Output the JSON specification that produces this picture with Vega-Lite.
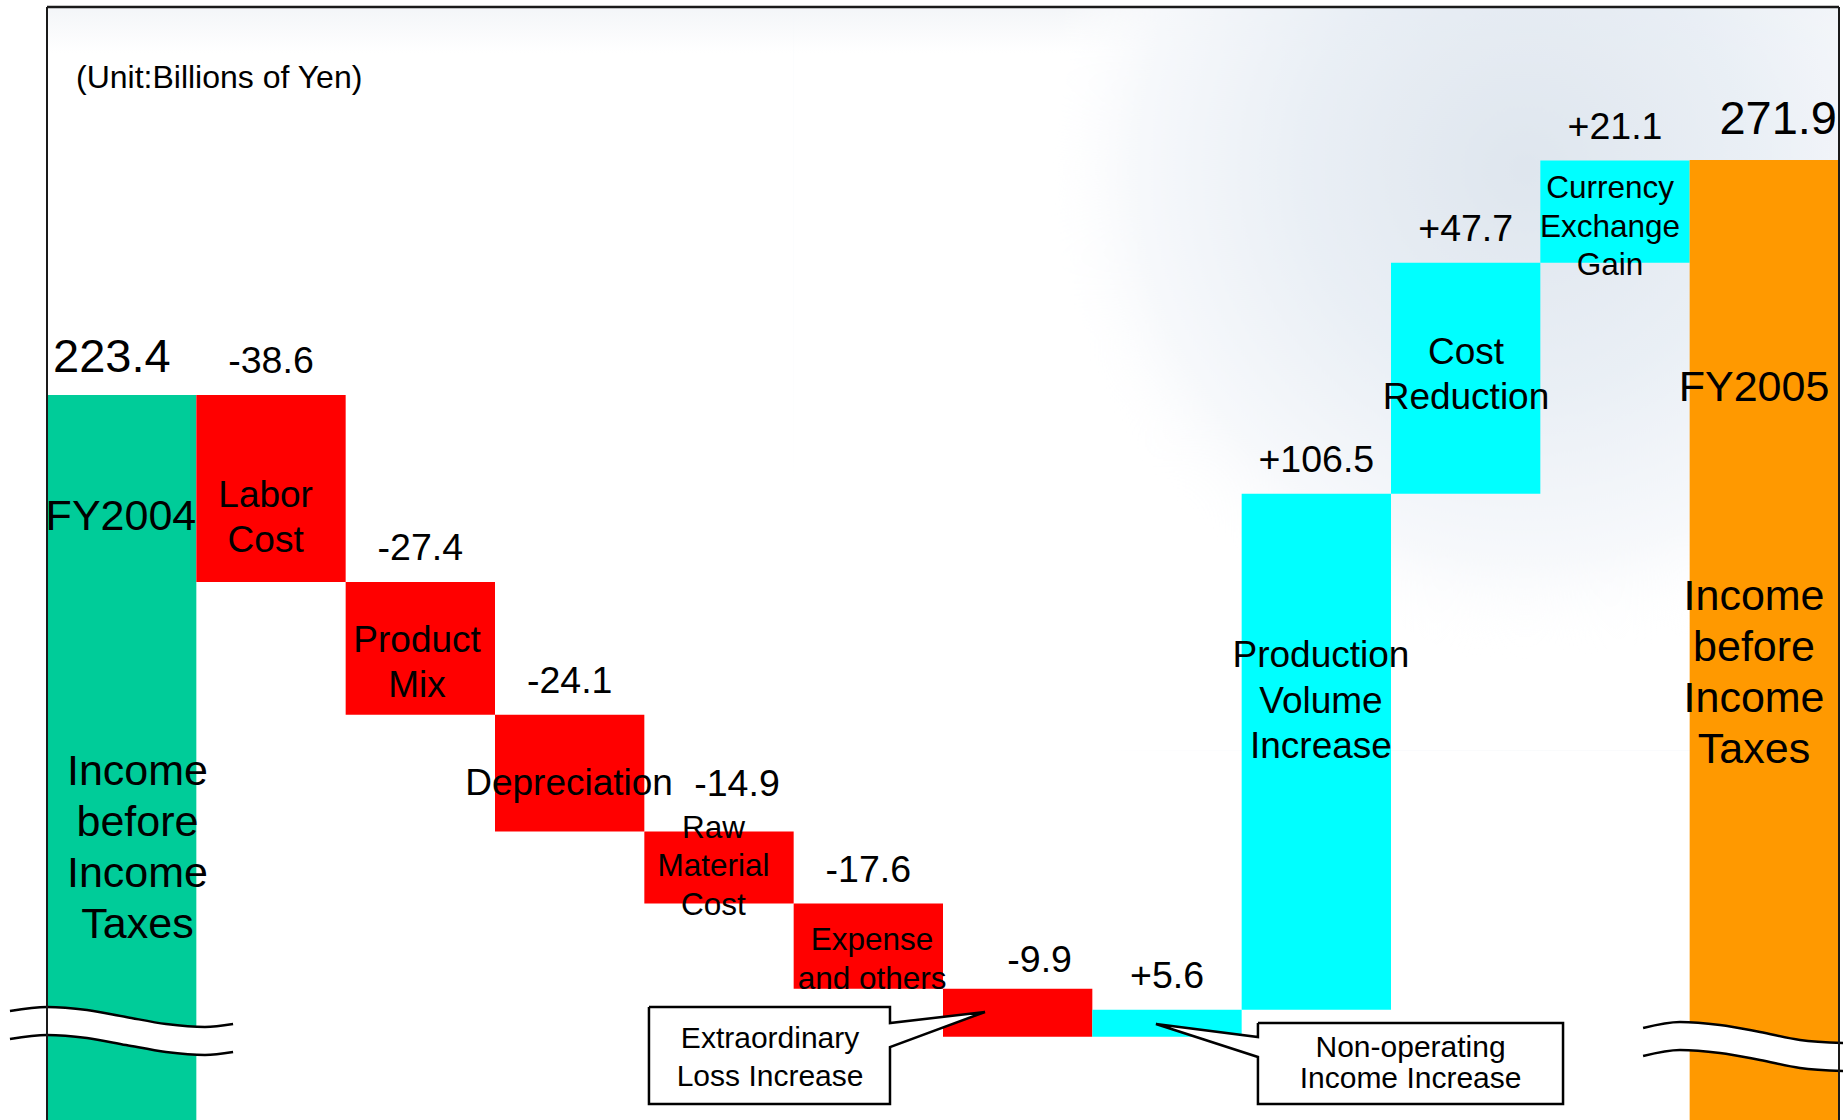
{
  "$schema": "https://vega.github.io/schema/vega-lite/v6.json",
  "width": 1792,
  "height": 1113,
  "autosize": "none",
  "padding": {"left": 47, "top": 7, "right": 4, "bottom": 0},
  "background": "white",
  "view": {"stroke": null},
  "config": {"font": "Liberation Sans", "text": {"font": "Liberation Sans", "color": "black"}},
  "datasets": {
    "steps": [
      {"i": 0, "name": "FY2004", "kind": "total04", "start": 0, "end": 223.4, "label": "223.4"},
      {"i": 1, "name": "Labor Cost", "kind": "decrease", "start": 223.4, "end": 184.8, "label": "-38.6"},
      {"i": 2, "name": "Product Mix", "kind": "decrease", "start": 184.8, "end": 157.4, "label": "-27.4"},
      {"i": 3, "name": "Depreciation", "kind": "decrease", "start": 157.4, "end": 133.3, "label": "-24.1"},
      {"i": 4, "name": "Raw Material Cost", "kind": "decrease", "start": 133.3, "end": 118.4, "label": "-14.9"},
      {"i": 5, "name": "Expense and others", "kind": "decrease", "start": 118.4, "end": 100.8, "label": "-17.6"},
      {"i": 6, "name": "Extraordinary Loss Increase", "kind": "decrease", "start": 100.8, "end": 90.9, "label": "-9.9"},
      {"i": 7, "name": "Non-operating Income Increase", "kind": "increase", "start": 90.9, "end": 96.5, "label": "+5.6"},
      {"i": 8, "name": "Production Volume Increase", "kind": "increase", "start": 96.5, "end": 203.0, "label": "+106.5"},
      {"i": 9, "name": "Cost Reduction", "kind": "increase", "start": 203.0, "end": 250.7, "label": "+47.7"},
      {"i": 10, "name": "Currency Exchange Gain", "kind": "increase", "start": 250.7, "end": 271.8, "label": "+21.1"},
      {"i": 11, "name": "FY2005", "kind": "total05", "start": 0, "end": 271.9, "label": "271.9"}
    ],
    "names": [
      {"group": "big", "x": 0.495, "y": 198.2, "t": "FY2004"},
      {"group": "big", "x": 0.606, "y": 145.5, "t": "Income\nbefore\nIncome\nTaxes"},
      {"group": "big", "x": 11.431, "y": 224.8, "t": "FY2005"},
      {"group": "big", "x": 11.431, "y": 181.7, "t": "Income\nbefore\nIncome\nTaxes"},
      {"group": "mid", "x": 1.464, "y": 202.55, "t": "Labor\nCost"},
      {"group": "mid", "x": 2.478, "y": 172.7, "t": "Product\nMix"},
      {"group": "mid", "x": 3.496, "y": 143.1, "t": "Depreciation"},
      {"group": "mid", "x": 8.531, "y": 169.5, "t": "Production\nVolume\nIncrease"},
      {"group": "mid", "x": 9.502, "y": 232.15, "t": "Cost\nReduction"},
      {"group": "small", "x": 4.463, "y": 133.9, "t": "Raw\nMaterial\nCost"},
      {"group": "small", "x": 5.525, "y": 110.6, "t": "Expense\nand others"},
      {"group": "small", "x": 10.467, "y": 265.9, "t": "Currency\nExchange\nGain"},
      {"group": "loss", "x": 4.842, "y": 90.45, "t": "Extraordinary\nLoss Increase"},
      {"group": "nonop", "x": 9.131, "y": 88.5, "t": "Non-operating\nIncome Increase"}
    ],
    "callouts": [
      {"shape": "loss", "k": 0, "x": 4.031, "y": 97.06},
      {"shape": "loss", "k": 1, "x": 5.645, "y": 97.06},
      {"shape": "loss", "k": 2, "x": 5.645, "y": 93.75},
      {"shape": "loss", "k": 3, "x": 6.281, "y": 96.03},
      {"shape": "loss", "k": 4, "x": 5.645, "y": 88.8},
      {"shape": "loss", "k": 5, "x": 5.645, "y": 77.03},
      {"shape": "loss", "k": 6, "x": 4.031, "y": 77.03},
      {"shape": "loss", "k": 7, "x": 4.031, "y": 97.06},
      {"shape": "nonop", "k": 0, "x": 8.109, "y": 93.75},
      {"shape": "nonop", "k": 1, "x": 10.152, "y": 93.75},
      {"shape": "nonop", "k": 2, "x": 10.152, "y": 77.03},
      {"shape": "nonop", "k": 3, "x": 8.109, "y": 77.03},
      {"shape": "nonop", "k": 4, "x": 8.109, "y": 86.74},
      {"shape": "nonop", "k": 5, "x": 7.426, "y": 93.55},
      {"shape": "nonop", "k": 6, "x": 8.109, "y": 90.87},
      {"shape": "nonop", "k": 7, "x": 8.109, "y": 93.75}
    ],
    "breaks": [
      {"side": "L", "x": -0.248, "top": 96.23, "bot": 90.45},
      {"side": "L", "x": 0.0, "top": 97.06, "bot": 91.28},
      {"side": "L", "x": 0.268, "top": 96.44, "bot": 90.66},
      {"side": "L", "x": 0.529, "top": 95.0, "bot": 89.21},
      {"side": "L", "x": 0.797, "top": 93.55, "bot": 87.77},
      {"side": "L", "x": 1.058, "top": 92.93, "bot": 87.15},
      {"side": "L", "x": 1.246, "top": 93.55, "bot": 87.77},
      {"side": "R", "x": 10.688, "top": 92.72, "bot": 86.94},
      {"side": "R", "x": 10.935, "top": 93.96, "bot": 88.18},
      {"side": "R", "x": 11.203, "top": 93.34, "bot": 87.56},
      {"side": "R", "x": 11.471, "top": 91.9, "bot": 86.12},
      {"side": "R", "x": 11.739, "top": 90.25, "bot": 84.47},
      {"side": "R", "x": 12.027, "top": 89.63, "bot": 83.85}
    ]
  },
  "encoding": {
    "x": {"type": "quantitative", "scale": {"domain": [0, 12], "nice": false, "zero": false}, "axis": null},
    "y": {"type": "quantitative", "scale": {"domain": [73.73, 303.5], "nice": false, "zero": false}, "axis": null}
  },
  "layer": [
    {
      "data": {"values": [{}]},
      "mark": {
        "type": "rect",
        "color": {
          "gradient": "linear",
          "x1": 0, "y1": 0, "x2": 0, "y2": 1,
          "stops": [
            {"offset": 0, "color": "#eef1f5"},
            {"offset": 1, "color": "#ffffff"}
          ]
        },
        "opacity": 0.7
      },
      "encoding": {
        "x": {"datum": 0},
        "x2": {"datum": 12},
        "y": {"datum": 294},
        "y2": {"datum": 303.5}
      }
    },
    {
      "data": {"values": [{}]},
      "mark": {
        "type": "rect",
        "opacity": 0.9,
        "color": {
          "gradient": "radial",
          "x1": 0.7, "y1": 0.3, "r1": 0,
          "x2": 0.7, "y2": 0.3, "r2": 0.47,
          "stops": [
            {"offset": 0, "color": "#dbe3ec"},
            {"offset": 0.45, "color": "#e7edf4"},
            {"offset": 0.8, "color": "#f6f8fb"},
            {"offset": 1, "color": "rgba(255,255,255,0)"}
          ]
        }
      },
      "encoding": {
        "x": {"datum": 5},
        "x2": {"datum": 12},
        "y": {"datum": 150},
        "y2": {"datum": 303.5}
      }
    },
    {
      "data": {"name": "steps"},
      "transform": [{"calculate": "datum.i + 1", "as": "i1"}],
      "mark": {"type": "rect", "clip": true},
      "encoding": {
        "x": {"field": "i"},
        "x2": {"field": "i1"},
        "y": {"field": "start"},
        "y2": {"field": "end"},
        "color": {
          "field": "kind",
          "type": "nominal",
          "scale": {"domain": ["total04", "decrease", "increase", "total05"], "range": ["#00CC99", "#FF0000", "#00FFFF", "#FF9900"]},
          "legend": null
        }
      }
    },
    {
      "data": {"name": "steps"},
      "transform": [
        {"filter": "(datum.kind === 'decrease' || datum.kind === 'increase') && datum.i !== 4 && datum.i !== 6"},
        {"calculate": "datum.i + 0.5", "as": "xc"},
        {"calculate": "max(datum.start, datum.end)", "as": "top"}
      ],
      "mark": {"type": "text", "fontSize": 37.5, "baseline": "middle", "align": "center", "dy": -33},
      "encoding": {
        "x": {"field": "xc"},
        "y": {"field": "top"},
        "text": {"field": "label"}
      }
    },
    {
      "data": {"name": "steps"},
      "transform": [
        {"filter": "datum.i === 4"},
        {"calculate": "datum.i + 0.5", "as": "xc"},
        {"calculate": "max(datum.start, datum.end)", "as": "top"}
      ],
      "mark": {"type": "text", "fontSize": 37.5, "baseline": "middle", "align": "center", "dx": 18, "dy": -46},
      "encoding": {
        "x": {"field": "xc"},
        "y": {"field": "top"},
        "text": {"field": "label"}
      }
    },
    {
      "data": {"name": "steps"},
      "transform": [
        {"filter": "datum.i === 6"},
        {"calculate": "datum.i + 0.5", "as": "xc"},
        {"calculate": "max(datum.start, datum.end)", "as": "top"}
      ],
      "mark": {"type": "text", "fontSize": 37.5, "baseline": "middle", "align": "center", "dx": 22, "dy": -28},
      "encoding": {
        "x": {"field": "xc"},
        "y": {"field": "top"},
        "text": {"field": "label"}
      }
    },
    {
      "data": {"name": "steps"},
      "transform": [{"filter": "datum.kind === 'total04'"}],
      "mark": {"type": "text", "fontSize": 47, "baseline": "middle", "align": "left", "dx": 6, "dy": -37},
      "encoding": {
        "x": {"field": "i"},
        "y": {"field": "end"},
        "text": {"field": "label"}
      }
    },
    {
      "data": {"name": "steps"},
      "transform": [
        {"filter": "datum.kind === 'total05'"},
        {"calculate": "datum.i + 1", "as": "i1"}
      ],
      "mark": {"type": "text", "fontSize": 47, "baseline": "middle", "align": "right", "dx": -2, "dy": -40},
      "encoding": {
        "x": {"field": "i1"},
        "y": {"field": "end"},
        "text": {"field": "label"}
      }
    },
    {
      "data": {"name": "names"},
      "transform": [{"filter": "datum.group === 'big'"}],
      "mark": {"type": "text", "fontSize": 43, "lineHeight": 51, "lineBreak": "\n", "baseline": "middle", "align": "center"},
      "encoding": {"x": {"field": "x"}, "y": {"field": "y"}, "text": {"field": "t"}}
    },
    {
      "data": {"name": "names"},
      "transform": [{"filter": "datum.group === 'mid'"}],
      "mark": {"type": "text", "fontSize": 37, "lineHeight": 45.5, "lineBreak": "\n", "baseline": "middle", "align": "center"},
      "encoding": {"x": {"field": "x"}, "y": {"field": "y"}, "text": {"field": "t"}}
    },
    {
      "data": {"name": "names"},
      "transform": [{"filter": "datum.group === 'small'"}],
      "mark": {"type": "text", "fontSize": 31.5, "lineHeight": 38.5, "lineBreak": "\n", "baseline": "middle", "align": "center"},
      "encoding": {"x": {"field": "x"}, "y": {"field": "y"}, "text": {"field": "t"}}
    },
    {
      "data": {"name": "breaks"},
      "mark": {"type": "area", "color": "white", "interpolate": "monotone", "opacity": 1},
      "encoding": {
        "x": {"field": "x"},
        "y": {"field": "top"},
        "y2": {"field": "bot"},
        "detail": {"field": "side"}
      }
    },
    {
      "data": {"name": "breaks"},
      "mark": {"type": "line", "color": "black", "strokeWidth": 2.5, "interpolate": "monotone"},
      "encoding": {
        "x": {"field": "x"},
        "y": {"field": "top"},
        "detail": {"field": "side"}
      }
    },
    {
      "data": {"name": "breaks"},
      "mark": {"type": "line", "color": "black", "strokeWidth": 2.5, "interpolate": "monotone"},
      "encoding": {
        "x": {"field": "x"},
        "y": {"field": "bot"},
        "detail": {"field": "side"}
      }
    },
    {
      "data": {"name": "callouts"},
      "mark": {"type": "line", "stroke": "black", "fill": "white", "strokeWidth": 2.5, "strokeJoin": "miter"},
      "encoding": {
        "x": {"field": "x"},
        "y": {"field": "y"},
        "detail": {"field": "shape"},
        "order": {"field": "k"}
      }
    },
    {
      "data": {"name": "names"},
      "transform": [{"filter": "datum.group === 'loss'"}],
      "mark": {"type": "text", "fontSize": 30, "lineHeight": 37.5, "lineBreak": "\n", "baseline": "middle", "align": "center"},
      "encoding": {"x": {"field": "x"}, "y": {"field": "y"}, "text": {"field": "t"}}
    },
    {
      "data": {"name": "names"},
      "transform": [{"filter": "datum.group === 'nonop'"}],
      "mark": {"type": "text", "fontSize": 30, "lineHeight": 30.5, "lineBreak": "\n", "baseline": "middle", "align": "center"},
      "encoding": {"x": {"field": "x"}, "y": {"field": "y"}, "text": {"field": "t"}}
    },
    {
      "data": {"values": [{}]},
      "mark": {"type": "text", "fontSize": 32, "baseline": "middle", "align": "left", "text": "(Unit:Billions of Yen)"},
      "encoding": {"x": {"datum": 0.194}, "y": {"datum": 288.8}}
    },
    {
      "data": {"values": [{}]},
      "mark": {"type": "rule", "color": "#1a1a1a", "strokeWidth": 2},
      "encoding": {"x": {"datum": 0}, "y": {"datum": 73.73}, "y2": {"datum": 303.5}}
    },
    {
      "data": {"values": [{}]},
      "mark": {"type": "rule", "color": "#1a1a1a", "strokeWidth": 2},
      "encoding": {"x": {"datum": 12}, "y": {"datum": 73.73}, "y2": {"datum": 303.5}}
    },
    {
      "data": {"values": [{}]},
      "mark": {"type": "rule", "color": "#1a1a1a", "strokeWidth": 2.5},
      "encoding": {"x": {"datum": 0}, "x2": {"datum": 12}, "y": {"datum": 303.5}}
    }
  ]
}
